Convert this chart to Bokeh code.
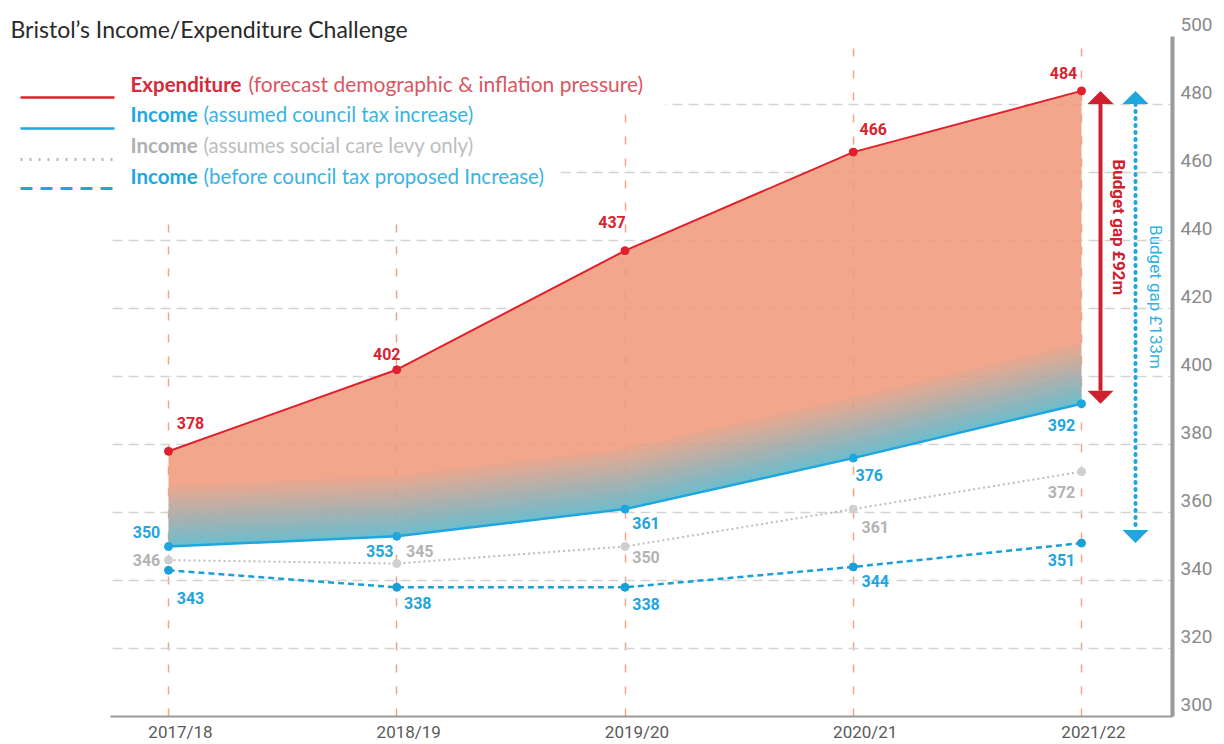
import numpy as np
from bokeh.plotting import figure
from bokeh.models import (Range1d, LinearAxis, FixedTicker, Label, Arrow,
                          ColumnDataSource, BoxAnnotation)
from bokeh.core.properties import value
from bokeh.embed import file_html
from bokeh.resources import INLINE

# ---------------- data ----------------
years = ["2017/18", "2018/19", "2019/20", "2020/21", "2021/22"]
expenditure = [378, 402, 437, 466, 484]
income_council_tax = [350, 353, 361, 376, 392]
income_social_care = [346, 345, 350, 361, 372]
income_before_increase = [343, 338, 338, 344, 351]
y_ticks = [300, 320, 340, 360, 380, 400, 420, 440, 460, 480, 500]

title_text = "Bristol\u2019s Income/Expenditure Challenge"
legend_bold = ["Expenditure", "Income", "Income", "Income"]
legend_rest = ["(forecast demographic & inflation pressure)",
               "(assumed council tax increase)",
               "(assumes social care levy only)",
               "(before council tax proposed Increase)"]
gap_red_text = "Budget gap \u00a392m"
gap_blue_text = "Budget gap \u00a3133m"

# ---------------- layout ----------------
W, H = 1224, 744
ML, MR, MT, MB = 0, 52, 0, 28
FW, FH = W - ML - MR, H - MT - MB
PXX = 228.25                 # px per category step
X0 = -168 / PXX              # first category sits 168px from the left
X1 = X0 + FW / PXX
PXY = 3.4                    # px per GBP m
Y0 = 300
Y1 = Y0 + FH / PXY           # headroom above 500 holds the title
YTOP = y_ticks[-1]
XL = (110 - 168) / PXX       # where the axis line / grid begin

RED = "#e0202c"
RED_DARK = "#d0202e"
BLUE = "#1ea6df"
BLUE_D = "#1a9fd6"
GRAY = "#bdbdbd"
LBL = "Roboto"
TXT = "Lato"

x = np.arange(len(years))
exp = np.array(expenditure, dtype=float)
inc = np.array(income_council_tax, dtype=float)
soc = np.array(income_social_care, dtype=float)
bef = np.array(income_before_increase, dtype=float)

p = figure(width=W, height=H, output_backend="svg", toolbar_location=None,
           x_range=Range1d(X0, X1), y_range=Range1d(Y0, Y1),
           x_axis_location=None, y_axis_location=None,
           min_border_left=ML, min_border_right=MR, min_border_top=MT,
           min_border_bottom=MB)
p.outline_line_color = None
p.background_fill_color = "white"
p.border_fill_color = "white"

# grids
p.xgrid.ticker = FixedTicker(ticks=list(range(len(years))))
p.xgrid.grid_line_color = "#f0a487"
p.xgrid.grid_line_dash = "8 14"
p.xgrid.grid_line_width = 1.5
p.ygrid.ticker = FixedTicker(ticks=y_ticks[1:-1])
p.ygrid.grid_line_color = "#d4d4d4"
p.ygrid.grid_line_dash = "10 6"
p.ygrid.grid_line_width = 1.3

# axes (labels shifted through offset ranges)
sx = 12 / PXX
sy = 12 / PXY
p.extra_x_ranges = {"xlab": Range1d(X0 - sx, X1 - sx)}
p.extra_y_ranges = {"ylab": Range1d(Y0 - sy, Y1 - sy)}

xax = LinearAxis(x_range_name="xlab", ticker=FixedTicker(ticks=list(range(len(years)))),
                 major_label_overrides={i: years[i] for i in range(len(years))},
                 bounds=(XL - sx, X1 - sx))
xax.axis_line_color = "#9a9a9a"
xax.axis_line_width = 2
xax.major_tick_line_color = None
xax.minor_tick_line_color = None
xax.major_tick_out = 0
xax.major_tick_in = 0
xax.minor_tick_out = 0
xax.minor_tick_in = 0
xax.major_label_standoff = 5
xax.major_label_text_font = LBL
xax.major_label_text_font_size = "17px"
xax.major_label_text_color = "#5a5a5a"
p.add_layout(xax, "below")

yax = LinearAxis(y_range_name="ylab", ticker=FixedTicker(ticks=y_ticks))
yax.axis_line_color = None
yax.major_tick_line_color = None
yax.minor_tick_line_color = None
yax.major_tick_out = 0
yax.major_tick_in = 0
yax.minor_tick_out = 0
yax.minor_tick_in = 0
yax.major_label_standoff = 8
yax.major_label_text_font = LBL
yax.major_label_text_font_size = "19px"
yax.major_label_text_color = "#8a8a8a"
p.add_layout(yax, "right")

# ---------------- gap area with gradient (stacked translucent bands) ----------------
p.varea(x=x, y1=inc, y2=exp, fill_color="#f09a7c", fill_alpha=0.88)
BAND_ALPHA = 0.06
band_px = [66 * (1 - (1 - (1 - BAND_ALPHA) ** k) / 0.75) for k in range(1, 23)]
for dpx in band_px:
    p.varea(x=x, y1=inc, y2=np.minimum(inc + max(dpx, 0.8) / PXY, exp),
            fill_color="#45c8f6", fill_alpha=BAND_ALPHA)

# ---------------- lines ----------------
p.line(x, soc, line_color=GRAY, line_width=2, line_dash="2 3")
p.scatter(x, soc, size=8, color="#cfcfcf")
p.line(x, bef, line_color=BLUE_D, line_width=2.5, line_dash="6 4")
p.scatter(x, bef, size=8, color=BLUE_D)
p.line(x, inc, line_color=BLUE, line_width=2.5)
p.scatter(x, inc, size=8, color=BLUE)
p.line(x, exp, line_color=RED, line_width=2)
p.scatter(x, exp, size=8, color=RED)

# ---------------- data labels ----------------
def labels(vals, dx, dy, color):
    src = ColumnDataSource(dict(x=x, y=vals, t=[str(int(v)) for v in vals], dx=dx, dy=dy))
    p.text(x="x", y="y", text="t", x_offset="dx", y_offset="dy", source=src,
           text_color=color, text_font=value(LBL), text_font_style="bold",
           text_font_size="16px", text_align="center", text_baseline="middle")

labels(exp, [22, -10, -13, 20, -18], [-28, -16, -29, -23, -18], "#d9232f")
labels(inc, [-22, -17, 21, 16, -20], [-15, 15, 14, 17, 21], "#1fa5de")
labels(soc, [-22, 23, 21, 22, -20], [0, -13, 10, 18, 20], "#b3b3b3")
labels(bef, [22, 21, 21, 22, -20], [28, 16, 17, 14, 17], "#1fa5de")

# ---------------- budget gap arrows ----------------
last = len(years) - 1
xr = last + 19 / PXX
xb = last + 54 / PXX
hw = 13 / PXX
hl = 13 / PXY
E, I, B = exp[-1], inc[-1], bef[-1]

p.segment(x0=[xr], y0=[E - hl], x1=[xr], y1=[I + hl], line_color=RED_DARK, line_width=4)
p.patches(xs=[[xr, xr - hw, xr + hw], [xr, xr - hw, xr + hw]],
          ys=[[E, E - hl, E - hl], [I, I + hl, I + hl]],
          fill_color=RED_DARK, line_color=None)
p.segment(x0=[xb], y0=[E - hl], x1=[xb], y1=[B + hl], line_color=BLUE, line_width=4,
          line_dash="1 6", line_cap="round")
p.patches(xs=[[xb, xb - hw, xb + hw], [xb, xb - hw, xb + hw]],
          ys=[[E, E - hl, E - hl], [B, B + hl, B + hl]],
          fill_color=BLUE, line_color=None)

p.add_layout(Label(x=last, y=(E + I) / 2 + 20 / PXY, x_offset=37, text=gap_red_text,
                   angle=-np.pi / 2, text_align="center", text_baseline="middle",
                   text_color=RED_DARK, text_font=LBL, text_font_style="bold",
                   text_font_size="17px"))
p.add_layout(Label(x=last, y=(E + B) / 2 + 20 / PXY, x_offset=74, text=gap_blue_text,
                   angle=-np.pi / 2, text_align="center", text_baseline="middle",
                   text_color="#33b1e3", text_font=LBL, text_font_size="17px"))

# ---------------- white backgrounds (headroom, left margin strip, legend) ----------------
def dx_(rx):
    return (rx - 168) / PXX
def dy_(ry):
    return Y0 + (716 - ry) / PXY

p.add_layout(BoxAnnotation(left=X0 - 1, right=X1 + 1, bottom=YTOP, top=Y1 + 5,
                           fill_color="white", fill_alpha=1.0, line_color=None))
for (l, r, t, b) in [(0, 109, -20, 800), (0, 665, 40, 110), (0, 560, 110, 216)]:
    p.add_layout(BoxAnnotation(left=dx_(l) - 1, right=dx_(r), top=dy_(t), bottom=dy_(b),
                               fill_color="white", fill_alpha=1.0, line_color=None))

# right-hand axis line, from 300 up to 500
p.segment(x0=[X1], y0=[Y0], x1=[X1], y1=[YTOP], line_color="#9a9a9a", line_width=4,
          level="overlay")

# ---------------- title & legend (screen units, frame-relative) ----------------
FB = 716  # reference y of frame bottom
def syr(ry):
    return FB - ry

p.add_layout(Label(x=10, y=syr(28), x_units="screen", y_units="screen",
                   text=title_text, text_font=TXT, text_font_size="23px",
                   text_color="#2a2a2a", text_baseline="middle", text_align="left"))

row_y = [83, 113, 144, 175]
line_y = [97, 128, 159, 188]
bold_c = ["#d42a3a", "#1fa8e0", "#b0b0b0", "#1fa8e0"]
rest_c = ["#dc5662", "#3ab3e3", "#bdbdbd", "#3ab3e3"]
rest_x = [248, 203, 203, 203]
rest_size = ["21px", "20.5px", "20.5px", "20.5px"]
line_c = [RED, BLUE, "#b8b8b8", BLUE]
line_d = ["solid", "solid", "2 7", "12 8"]
line_w = [2.5, 2.5, 3, 3]
for i in range(4):
    p.add_layout(Label(x=130, y=syr(row_y[i]), x_units="screen", y_units="screen",
                       text=legend_bold[i], text_font=TXT, text_font_style="bold",
                       text_font_size="20.5px", text_color=bold_c[i], text_baseline="middle"))
    p.add_layout(Label(x=rest_x[i], y=syr(row_y[i]), x_units="screen", y_units="screen",
                       text=legend_rest[i], text_font=TXT,
                       text_font_size=rest_size[i], text_color=rest_c[i],
                       text_baseline="middle"))
    p.add_layout(Arrow(x_start=20, y_start=syr(line_y[i]), x_end=114,
                       y_end=syr(line_y[i]), start_units="screen", end_units="screen",
                       start=None, end=None, line_color=line_c[i], line_width=line_w[i],
                       line_dash=line_d[i]))

open("out.html", "w").write(file_html(p, INLINE))
